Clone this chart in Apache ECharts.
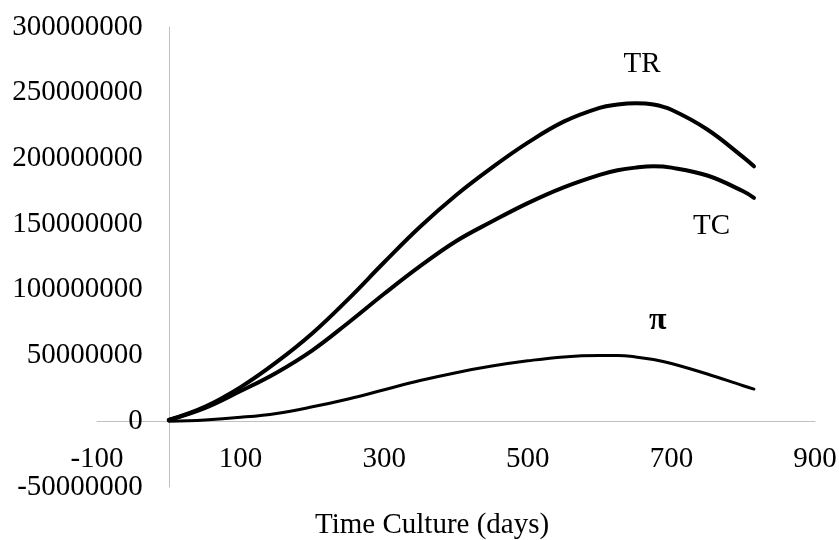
<!DOCTYPE html>
<html>
<head>
<meta charset="utf-8">
<script src="https://cdn.jsdelivr.net/npm/echarts@6/dist/echarts.min.js"></script>
<style>html,body{margin:0;padding:0;background:#fff;}#c{width:839px;height:540px;}</style>
</head>
<body>
<div id="c"></div>
<script>
var days = [0, 50, 100, 150, 200, 250, 300, 350, 400, 450, 500, 550, 600, 625, 650, 675, 700, 750, 800, 815];
var TR = [1e6, 11e6, 26e6, 45e6, 67e6, 93e6, 121e6, 148e6, 172e6, 193e6, 212e6, 228e6, 238.5e6, 241e6, 242e6, 241e6, 237e6, 222e6, 201e6, 194e6];
var TC = [1e6, 10e6, 23e6, 37e6, 54e6, 75e6, 97e6, 118e6, 137e6, 152e6, 166e6, 178e6, 187.5e6, 191e6, 193e6, 194e6, 193e6, 187e6, 175e6, 170e6];
var PI = [0, 1e6, 3e6, 6e6, 11e6, 17e6, 24e6, 31e6, 37e6, 42e6, 46e6, 49e6, 50e6, 50e6, 49e6, 47e6, 44e6, 36e6, 27e6, 24.5e6];
var xTicks = [-100, 100, 300, 500, 700, 900];
var yTicks = [-50000000, 0, 50000000, 100000000, 150000000, 200000000, 250000000, 300000000];
var seriesLabels = [
  {name: 'TR', at: [659, 271.6e6]},
  {name: 'TC', at: [756, 148.4e6]},
  {name: 'π', at: [681, 76.8e6]}
];
var xTitle = 'Time Culture (days)';

function pairs(xs, ys) { return xs.map(function (x, i) { return [x, ys[i]]; }); }

var FONT = '"Liberation Serif", "Times New Roman", serif';
var FS = 29;
var G = {left: 97, right: 24, top: 27, bottom: 53};
var plotW = 839 - G.left - G.right;
var plotH = 540 - G.top - G.bottom;
var xMin = xTicks[0], xMax = xTicks[xTicks.length - 1];
var yMin = yTicks[0], yMax = yTicks[yTicks.length - 1];
// axes cross at zero: move each axis from the grid edge to the zero of the other axis
var yAxisOffset = -plotW * (0 - xMin) / (xMax - xMin);
var xAxisOffset = -plotH * (0 - yMin) / (yMax - yMin);

var chart = echarts.init(document.getElementById('c'), null, {renderer: 'canvas'});
chart.setOption({
  animation: false,
  backgroundColor: '#ffffff',
  grid: {left: G.left, right: G.right, top: G.top, bottom: G.bottom, containLabel: false, outerBoundsMode: 'none'},
  xAxis: {
    type: 'value',
    min: xMin,
    max: xMax,
    interval: 200,
    position: 'bottom',
    offset: xAxisOffset,
    axisLine: {show: true, onZero: false, lineStyle: {color: '#c0c0c0', width: 1}},
    axisTick: {show: false},
    splitLine: {show: false},
    axisLabel: {margin: 24, color: '#000', fontFamily: FONT, fontSize: FS, showMinLabel: true, showMaxLabel: true,
      formatter: function (v) { return String(v); }}
  },
  yAxis: {
    type: 'value',
    min: yMin,
    max: yMax,
    interval: 50000000,
    position: 'left',
    offset: yAxisOffset,
    axisLine: {show: true, onZero: false, lineStyle: {color: '#c0c0c0', width: 1}},
    axisTick: {show: false},
    splitLine: {show: false},
    axisLabel: {margin: 26, color: '#000', fontFamily: FONT, fontSize: FS, showMinLabel: true, showMaxLabel: true,
      formatter: function (v) { return String(v); }}
  },
  series: [
    {name: 'TR', type: 'line', data: pairs(days, TR), smooth: 0.4, showSymbol: false,
     lineStyle: {color: '#000', width: 4, cap: 'round'},
     markPoint: {symbolSize: 0, data: [{coord: seriesLabels[0].at}],
       label: {show: true, formatter: seriesLabels[0].name, color: '#000', fontFamily: FONT, fontSize: FS, position: 'inside'}}},
    {name: 'TC', type: 'line', data: pairs(days, TC), smooth: 0.4, showSymbol: false,
     lineStyle: {color: '#000', width: 4, cap: 'round'},
     markPoint: {symbolSize: 0, data: [{coord: seriesLabels[1].at}],
       label: {show: true, formatter: seriesLabels[1].name, color: '#000', fontFamily: FONT, fontSize: FS, position: 'inside'}}},
    {name: 'π', type: 'line', data: pairs(days, PI), smooth: 0.4, showSymbol: false,
     lineStyle: {color: '#000', width: 3, cap: 'round'},
     markPoint: {symbolSize: 0, data: [{coord: seriesLabels[2].at}],
       label: {show: true, formatter: seriesLabels[2].name, color: '#000', fontFamily: FONT, fontSize: FS + 3, fontWeight: 'bold', position: 'inside'}}}
  ],
  graphic: [
    {type: 'text', left: 315, top: 511, style: {text: xTitle, fill: '#000', font: FS + 'px ' + FONT}}
  ]
});
</script>
</body>
</html>
